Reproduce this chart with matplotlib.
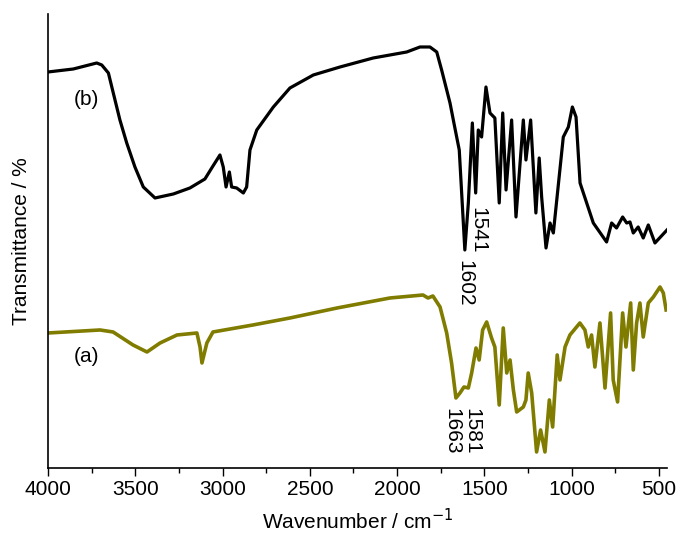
import numpy as np
import matplotlib
matplotlib.use("Agg")
import matplotlib.pyplot as plt
from matplotlib.ticker import MultipleLocator

plt.rcParams['font.family'] = ['Liberation Sans', 'DejaVu Sans']

# ---- dados (unidades arbitrárias de transmitância) ----
wn_b = [4000, 3855, 3721, 3692, 3654, 3626, 3588, 3549, 3502, 3454, 3387, 3282,
        3187, 3101, 3062, 3015, 2996, 2980, 2961, 2948, 2919, 2881, 2862, 2843,
        2804, 2709, 2614, 2480, 2327, 2137, 1945, 1869, 1812, 1773, 1745, 1697,
        1669, 1644, 1612, 1592, 1569, 1550, 1535, 1516, 1491, 1468, 1440, 1415,
        1395, 1376, 1344, 1319, 1277, 1262, 1235, 1205, 1186, 1172, 1147, 1124,
        1105, 1048, 1019, 996, 975, 952, 933, 876, 848, 800, 771, 743,
        708, 685, 666, 647, 619, 590, 561, 523, 454]
t_b = [396, 399, 405, 403, 395, 375, 348, 325, 301, 281, 270, 274,
       280, 289, 300, 313, 301, 281, 296, 281, 280, 275, 281, 318,
       338, 361, 380, 393, 401, 410, 416, 421, 421, 416, 398, 365,
       340, 318, 218, 265, 345, 275, 338, 331, 381, 355, 350, 265,
       355, 278, 348, 251, 348, 308, 348, 255, 310, 271, 220, 245,
       235, 331, 341, 361, 351, 285, 275, 245, 238, 226, 245, 240,
       251, 245, 246, 235, 241, 230, 243, 225, 238]

wn_a = [4000, 3702, 3627, 3513, 3433, 3358, 3261, 3147, 3129, 3118, 3090, 3055,
        2826, 2614, 2344, 2041, 1852, 1823, 1795, 1754, 1716, 1688, 1663, 1640,
        1617, 1592, 1573, 1548, 1530, 1510, 1487, 1459, 1440, 1415, 1392, 1372,
        1353, 1334, 1315, 1277, 1262, 1249, 1229, 1201, 1178, 1153, 1128, 1109,
        1083, 1067, 1038, 1010, 953, 924, 905, 886, 867, 838, 809, 777,
        762, 737, 708, 689, 662, 647, 628, 609, 590, 561, 532, 494,
        475, 459]
t_a = [135, 138, 136, 123, 116, 125, 133, 135, 121, 105, 125, 136,
       143, 150, 160, 170, 173, 170, 172, 161, 135, 105, 70, 75,
       81, 80, 95, 120, 108, 138, 146, 130, 121, 63, 140, 95,
       108, 78, 56, 61, 68, 95, 75, 16, 38, 16, 68, 41,
       113, 88, 121, 133, 145, 138, 121, 133, 101, 145, 80, 155,
       88, 66, 155, 121, 165, 98, 145, 165, 131, 165, 171, 181,
       175, 158]

picos = [("1541", 1537, 261), ("1602", 1611, 208), ("1581", 1571, 60), ("1663", 1686, 60)]

# ---- gráfico ----
fig = plt.figure(figsize=(6.77, 5.36), dpi=100)
ax = fig.add_axes([0.0709, 0.1269, 0.9143, 0.847])

ax.plot(wn_b, t_b, color='black', lw=2.3, solid_joinstyle='round')
ax.plot(wn_a, t_a, color='#807c00', lw=2.6, solid_joinstyle='round')

ax.set_xlim(4000, 454)
ax.set_ylim(0, 454)
ax.xaxis.set_major_locator(MultipleLocator(500))
ax.xaxis.set_minor_locator(MultipleLocator(250))
ax.tick_params(axis='x', which='major', direction='out', length=6, width=1, labelsize=15, pad=3)
ax.tick_params(axis='x', which='minor', direction='out', length=3.5, width=1)
ax.set_yticks([])
for s in ['top', 'right']:
    ax.spines[s].set_visible(False)
ax.spines['left'].set_linewidth(1.2)
ax.spines['bottom'].set_linewidth(1.2)

ax.set_xlabel("Wavenumber / cm$^{-1}$", fontsize=15, labelpad=6)
ax.set_ylabel("Transmittance / %", fontsize=15, labelpad=12)

ax.text(3780, 368, "(b)", fontsize=15, ha='center', va='center')
ax.text(3780, 111, "(a)", fontsize=15, ha='center', va='center')
for txt, x, y in picos:
    ax.text(x, y, txt, fontsize=15, rotation=-90, ha='center', va='top')

fig.savefig("out.png", dpi=100)
